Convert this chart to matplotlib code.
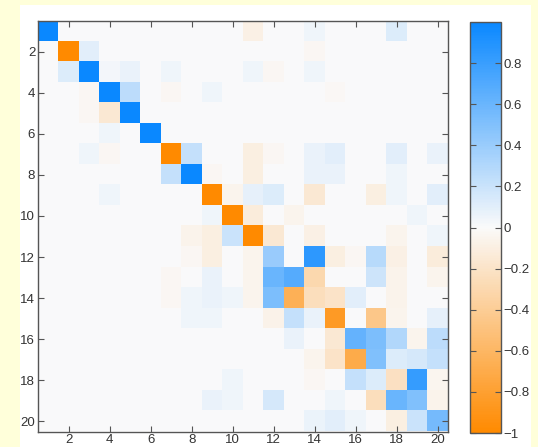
import numpy as np
import matplotlib
matplotlib.use("Agg")
import matplotlib.pyplot as plt
from matplotlib.colors import LinearSegmentedColormap
from matplotlib.patches import Rectangle

n = 20
row01 = {1: 1.0, 11: -0.08, 14: 0.04, 18: 0.12}
row02 = {2: -1.0, 3: 0.10, 14: -0.03}
row03 = {2: 0.12, 3: 1.0, 4: 0.03, 5: 0.07, 7: 0.04, 11: 0.04, 12: -0.03, 14: 0.04}
row04 = {3: -0.03, 4: 1.0, 5: 0.25, 7: -0.03, 9: 0.04, 15: -0.02}
row05 = {3: -0.03, 4: -0.15, 5: 1.0}
row06 = {4: 0.04, 6: 1.0}
row07 = {3: 0.04, 4: -0.03, 7: -1.0, 8: 0.22, 11: -0.10, 12: -0.03, 14: 0.07, 15: 0.10, 18: 0.10, 20: 0.07}
row08 = {7: 0.22, 8: 1.0, 9: -0.03, 11: -0.10, 14: 0.07, 15: 0.07, 18: 0.04}
row09 = {4: 0.04, 9: -1.0, 10: -0.05, 11: 0.08, 12: 0.12, 14: -0.15, 17: -0.10, 18: 0.04, 20: 0.10}
row10 = {9: 0.04, 10: -1.0, 11: -0.12, 13: -0.05, 19: 0.04}
row11 = {8: -0.06, 9: -0.10, 10: 0.20, 11: -1.0, 12: -0.15, 14: -0.08, 18: -0.05, 20: 0.04}
row12 = {8: -0.03, 9: -0.10, 11: -0.05, 12: 0.40, 14: 0.85, 15: -0.10, 16: -0.03, 17: 0.28, 18: -0.08, 20: -0.12}
row13 = {7: -0.03, 9: 0.07, 11: -0.05, 12: 0.60, 13: 0.68, 14: -0.30, 17: 0.18, 18: -0.06, 20: -0.05}
row14 = {7: -0.03, 8: 0.04, 9: 0.07, 10: 0.04, 11: -0.05, 12: 0.52, 13: -0.65, 14: -0.25, 15: -0.20, 16: 0.10, 18: -0.06}
row15 = {8: 0.04, 9: 0.04, 12: -0.07, 13: 0.22, 14: 0.07, 15: -0.85, 17: -0.45, 18: -0.05, 20: 0.08}
row16 = {13: 0.07, 15: -0.15, 16: 0.62, 17: 0.52, 18: 0.30, 19: -0.05, 20: 0.25}
row17 = {14: -0.05, 15: -0.20, 16: -0.70, 17: 0.50, 18: 0.12, 19: 0.15, 20: 0.22}
row18 = {10: 0.04, 14: -0.03, 16: 0.22, 17: 0.12, 18: -0.22, 19: 0.82, 20: -0.04}
row19 = {9: 0.07, 10: 0.04, 12: 0.15, 15: 0.04, 17: -0.25, 18: 0.60, 19: 0.50, 20: -0.06}
row20 = {14: 0.06, 15: 0.10, 16: 0.04, 18: -0.10, 19: 0.20, 20: 0.55}
rows = [row01, row02, row03, row04, row05, row06, row07, row08, row09, row10,
        row11, row12, row13, row14, row15, row16, row17, row18, row19, row20]

tick_vals = [2, 4, 6, 8, 10, 12, 14, 16, 18, 20]
cbar_ticks = [-1, -0.8, -0.6, -0.4, -0.2, 0, 0.2, 0.4, 0.6, 0.8]
cbar_labels = ["\u22121", "\u22120.8", "\u22120.6", "\u22120.4", "\u22120.2", "0", "0.2", "0.4", "0.6", "0.8"]

M = np.zeros((n, n))
for i, r in enumerate(rows):
    for c, v in r.items():
        M[i, c - 1] = v

cmap = LinearSegmentedColormap.from_list("ob", ["#FF8A00", "#FAFAFA", "#0A88FF"])

fig = plt.figure(figsize=(5.38, 4.47), dpi=100)
fig.patch.set_facecolor("#FFFFDA")
panel = Rectangle((20 / 538, 0), (531 - 20) / 538, (447 - 5) / 447,
                  transform=fig.transFigure, facecolor="white",
                  edgecolor="none", zorder=-10)
fig.add_artist(panel)

ax = fig.add_axes([38 / 538, (447 - 431.5) / 447, 410 / 538, 410.5 / 447])
im = ax.imshow(M, cmap=cmap, vmin=-1, vmax=1, extent=(0.5, 20.5, 20.5, 0.5),
               aspect="auto", interpolation="nearest")
ax.set_xticks(tick_vals)
ax.set_yticks(tick_vals)
ax.tick_params(direction="in", length=4, width=0.8, color="#555555",
               top=True, right=True, labelsize=9.5, labelcolor="#333333", pad=2)
for s in ax.spines.values():
    s.set_color("#555555")
    s.set_linewidth(1.0)

cax = fig.add_axes([470 / 538, (447 - 433) / 447, 30.5 / 538, 411 / 447])
cb = fig.colorbar(im, cax=cax)
cb.set_ticks(cbar_ticks)
cb.set_ticklabels(cbar_labels)
cax.tick_params(direction="in", length=4, width=0.8, color="#555555",
                left=True, right=True, labelsize=9.5, labelcolor="#333333", pad=2)
cb.outline.set_edgecolor("#555555")
cb.outline.set_linewidth(1.0)

for t in ax.get_xticklabels() + ax.get_yticklabels() + cax.get_yticklabels():
    t.set_fontfamily("Liberation Sans")

fig.savefig("out.png", dpi=100, facecolor=fig.get_facecolor())
